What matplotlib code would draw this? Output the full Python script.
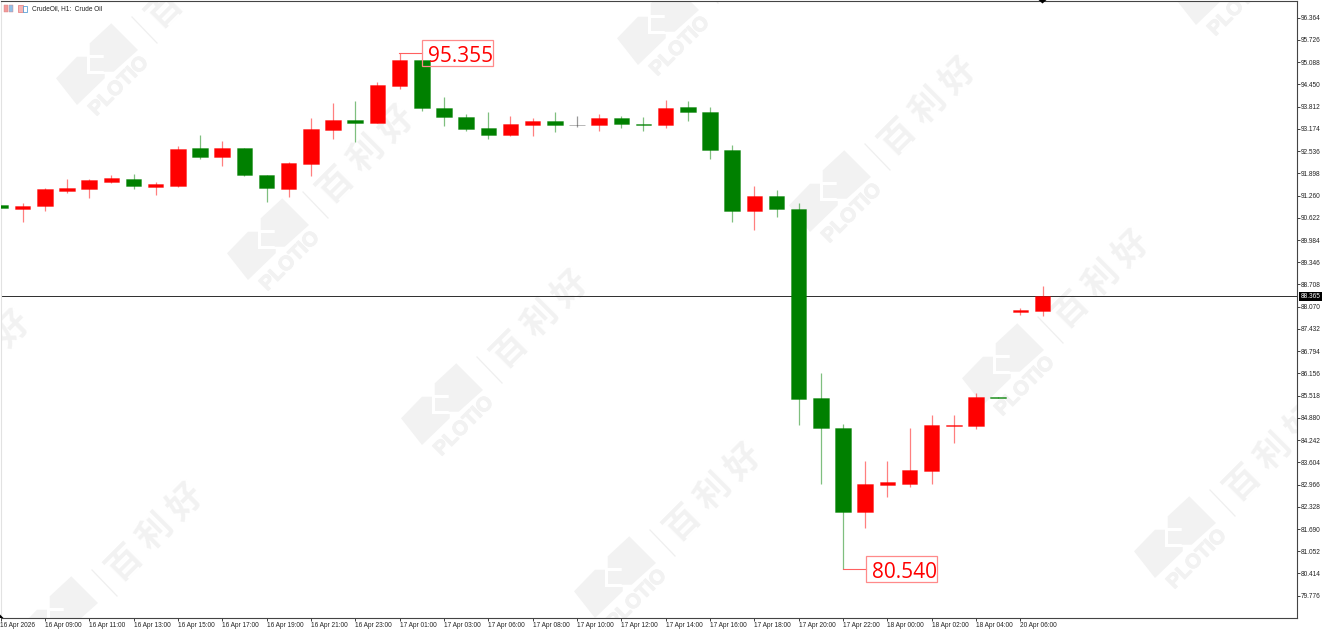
import matplotlib
matplotlib.use("Agg")
import matplotlib.pyplot as plt
import matplotlib.patheffects as pe
from matplotlib.patches import Polygon, Rectangle
from matplotlib.transforms import Affine2D

W, H = 1325, 635
UI_FONT = "Liberation Sans"
CJK_FONT = "Noto Sans CJK SC"

open_ = [90.998, 90.874, 90.970, 91.400, 91.457, 91.658, 91.735, 91.515, 91.544, 92.634,
         92.357, 92.634, 91.850, 91.457, 92.156, 93.151, 93.428, 93.332, 94.404, 95.140,
         93.763, 93.524, 93.208, 92.998, 93.294, 93.390, 93.299, 93.294, 93.485, 93.304,
         93.275, 93.801, 93.667, 92.567, 90.826, 91.257, 90.874, 85.440, 84.588, 82.187,
         82.962, 82.991, 83.364, 84.636, 84.655, 85.465, 87.927, 87.956]
close = [90.903, 90.960, 91.438, 91.477, 91.697, 91.754, 91.544, 91.582, 92.605, 92.376,
         92.634, 91.840, 91.486, 92.194, 93.170, 93.428, 93.352, 94.442, 95.140, 93.773,
         93.514, 93.179, 92.998, 93.304, 93.409, 93.294, 93.299, 93.485, 93.313, 93.275,
         93.782, 93.658, 92.567, 90.807, 91.257, 90.874, 85.411, 84.598, 82.187, 82.991,
         83.029, 83.393, 84.665, 84.675, 85.469, 85.455, 87.975, 88.365]
high = [90.998, 91.046, 91.486, 91.735, 91.725, 91.850, 91.878, 91.658, 92.682, 92.998,
        92.825, 92.634, 91.850, 92.213, 93.476, 93.906, 93.973, 94.519, 95.355, 95.140,
        94.088, 93.600, 93.648, 93.543, 93.476, 93.667, 93.543, 93.600, 93.543, 93.524,
        94.002, 93.973, 93.792, 92.711, 91.534, 91.419, 91.055, 86.158, 84.694, 83.632,
        83.632, 84.588, 84.952, 84.962, 85.583, 85.465, 88.023, 88.654]
low = [90.903, 90.510, 90.826, 91.343, 91.180, 91.620, 91.438, 91.285, 91.496, 92.309,
       92.098, 91.821, 91.084, 91.228, 91.831, 92.873, 92.797, 93.332, 94.308, 93.696,
       93.266, 93.112, 92.873, 92.969, 92.969, 93.074, 93.218, 93.112, 93.208, 93.112,
       93.208, 93.390, 92.299, 90.501, 90.271, 90.654, 84.675, 82.981, 80.540, 81.709,
       82.599, 82.895, 82.981, 84.168, 84.550, 85.455, 87.832, 87.813]

price_ticks = [96.364, 95.726, 95.088, 94.450, 93.812, 93.174, 92.536, 91.898, 91.260,
               90.622, 89.984, 89.346, 88.708, 88.070, 87.432, 86.794, 86.156, 85.518,
               84.880, 84.242, 83.604, 82.966, 82.328, 81.690, 81.052, 80.414, 79.776]
time_tick_pos = list(range(0, 48, 2))
time_labels = ["16 Apr 2026", "16 Apr 09:00", "16 Apr 11:00", "16 Apr 13:00", "16 Apr 15:00",
               "16 Apr 17:00", "16 Apr 19:00", "16 Apr 21:00", "16 Apr 23:00", "17 Apr 01:00",
               "17 Apr 03:00", "17 Apr 06:00", "17 Apr 08:00", "17 Apr 10:00", "17 Apr 12:00",
               "17 Apr 14:00", "17 Apr 16:00", "17 Apr 18:00", "17 Apr 20:00", "17 Apr 22:00",
               "18 Apr 00:00", "18 Apr 02:00", "18 Apr 04:00", "20 Apr 06:00"]
last_price = 88.365
title = "CrudeOil, H1:  Crude Oil"

UP, DOWN, FLAT = "#ff0000", "#008000", "#333333"
WM = "#f2f2f2"

plt.rcParams["font.family"] = [UI_FONT, "DejaVu Sans"]
fig = plt.figure(figsize=(W / 100, H / 100), dpi=100, facecolor="white")
ax = fig.add_axes([0.5 / W, (H - 617.7) / H, 1296 / W, 617.2 / H])
px_per_bar = 22.196
ax.set_xlim((0.5 + 0.9) / px_per_bar, (1296.5 + 0.9) / px_per_bar)
ax.set_ylim(79.145, 96.858)
ax.set_facecolor("white")

# pixel coordinates, origin top-left
PX = Affine2D().scale(1, -1).translate(0, H)


def visible(x, y, m=14):
    return -m < x < 1296 + m and -m < y < 617 + m


def watermark(cx, cy):
    at = Affine2D().translate(cx, cy) + PX
    upper = [(14.3, -41.7), (41, -15), (16.7, 6.7), (6.7, 6.7), (6.7, -10), (-7.3, -10), (-7.3, -21.7)]
    lower = [(-20, -8.3), (-10, -8.3), (-10, 9), (7.7, 9), (7.7, 13.3), (-20, 40), (-41, 13.3)]
    for poly in (upper, lower):
        ax.add_patch(Polygon(poly, closed=True, fc=WM, ec="none", transform=at, zorder=0.5))
    ax.add_patch(Rectangle((-6.7, -6.7), 13.4, 12.4, fc=WM, ec="none", transform=at, zorder=0.5))
    if visible(cx + 22, cy + 21):
        ax.text(cx + 22, cy + 21, "PLOTIO", transform=PX, rotation=45, rotation_mode="anchor",
                ha="center", va="center", fontsize=14.5, fontweight="bold", color=WM,
                family="Liberation Sans", zorder=0.5, clip_on=True,
                path_effects=[pe.withStroke(linewidth=0.8, foreground=WM)])
    ax.plot([cx + 35, cx + 60], [cy - 48, cy - 22], transform=PX, color="#efefef", lw=0.9,
            zorder=0.5, clip_on=True)
    for ch, d in zip("百利好", (-30, 0, 30)):
        tx, ty = cx + 98 + d, cy - 86 - d
        if visible(tx, ty):
            ax.text(tx, ty, ch, transform=PX, rotation=45, rotation_mode="anchor",
                    ha="center", va="center", fontsize=25, fontweight="bold", color=WM,
                    family=[CJK_FONT, "DejaVu Sans"], zorder=0.5, clip_on=True)


for c in [(97, 65), (268, 240), (442, 405), (615, 578), (-116, 445), (57, 618),
          (658, 25), (830, 192), (1003, 365), (1175, 538), (1216, -15)]:
    watermark(*c)

# current price line
ax.axhline(last_price, color="#333333", lw=0.72, zorder=1)

# candles
colors = [UP if c > o else DOWN if c < o else FLAT for o, c in zip(open_, close)]
xs = list(range(len(open_)))
ax.vlines(xs, low, high, colors=colors, lw=0.9, alpha=0.5, zorder=2)
bottoms = [min(o, c) for o, c in zip(open_, close)]
heights = [abs(o - c) for o, c in zip(open_, close)]
edge = [(col, 0.35) for col in colors]
ax.bar(xs, heights, 0.7, bottom=bottoms, color=colors, edgecolor=edge, lw=0.7, zorder=3)

# high / low annotations (offsets in pixels from the extreme point)
fig.canvas.draw()
for idx, val, box_top in ((18, high[18], 13.0), (38, low[38], 13.3)):
    T = Affine2D().translate(*ax.transData.transform((idx, val)))
    ax.plot([0, 23.7], [0, 0], transform=T, color="#ff6060", lw=0.8, zorder=5)
    ax.add_patch(Rectangle((23.7, -13.2), 70.6, 26.4, fc="none", ec="#ff8a8a", lw=0.9,
                           transform=T, zorder=5))
    ax.text(29, -8.8, f"{val:.3f}", transform=T, ha="left", va="baseline", color="#ff0000",
            fontsize=15, family="Open Sans", zorder=5)

# axes
for s, col in (("top", "#444444"), ("right", "#444444"), ("bottom", "#444444"), ("left", "#e2e2e2")):
    ax.spines[s].set_color(col)
    ax.spines[s].set_linewidth(0.8)
ax.yaxis.tick_right()
ax.set_yticks(price_ticks)
ax.set_yticklabels([f"{v:.3f}" for v in price_ticks])
ax.tick_params(axis="y", length=2.2, width=0.6, pad=0.6, labelsize=4.7, colors="#222222")
ax.set_xticks(time_tick_pos)
ax.set_xticklabels(time_labels, ha="left")
ax.tick_params(axis="x", length=2.2, width=0.6, pad=1.0, labelsize=4.7, colors="#222222")

# current price tag
ax.text(1310.3, 296.4, f"{last_price:.3f}", transform=PX, ha="center", va="center", fontsize=4.7,
        color="white", clip_on=False, zorder=6,
        bbox=dict(boxstyle="square,pad=0.2", fc="#000000", ec="none"))

# corner markers
fig.add_artist(Polygon([(1038.5, 0), (1046.5, 0), (1042.5, 3.5)], closed=True, fc="black", ec="none",
                       transform=PX))
fig.add_artist(Polygon([(0, 614.5), (3.5, 618), (0, 618)], closed=True, fc="black", ec="none",
                       transform=PX))

# title bar icons and text
for x0, col in ((3.5, "#f29a9a"), (8.5, "#8fc0e8")):
    fig.add_artist(Rectangle((x0, 4.5), 4.8, 7.5, fc=col, ec="#d98080", lw=0.3, transform=PX))
fig.add_artist(Rectangle((18, 4.5), 4.5, 7.5, fc="#f6b3b3", ec="#e06060", lw=0.4, transform=PX))
fig.add_artist(Rectangle((23, 5.5), 3.6, 6.5, fc="white", ec="#3a8ed0", lw=0.5, transform=PX))
ax.text(32, 8.3, title, transform=PX, ha="left", va="center", fontsize=4.7, color="#222222", zorder=6)

fig.savefig("out.png", dpi=100, facecolor="white")
